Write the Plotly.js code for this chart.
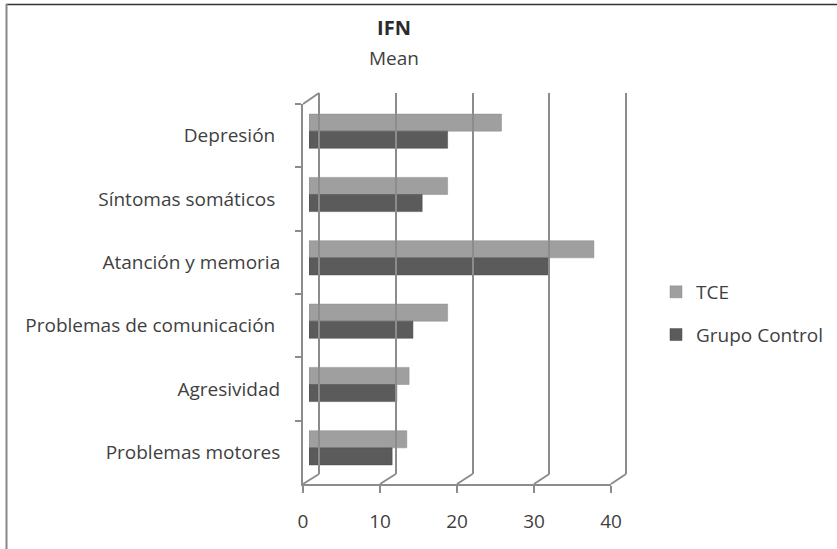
<!DOCTYPE html>
<html>
<head>
<meta charset="utf-8">
<script src="https://cdn.plot.ly/plotly-3.0.1.min.js"></script>
<style>html,body{margin:0;padding:0;background:#fff;}#chart{width:837px;height:549px;}</style>
</head>
<body>
<div id="chart"></div>
<script>
// ---- data ----
const categories = ["Depresión ", "Síntomas somáticos ", "Atanción y memoria", "Problemas de comunicación ", "Agresividad", "Problemas motores"];
const tceValues = [25, 18, 37, 18, 13, 12.7];
const controlValues = [18, 14.7, 31.2, 13.5, 11.4, 10.8];
const seriesNames = ["TCE", "Grupo Control"];
const xTickVals = [0, 10, 20, 30, 40];
const xTickText = ["0", "10", "20", "30", "40"];
const chartTitle = "IFN";
const chartSubtitle = "Mean";

// ---- layout helpers (page px -> paper fraction) ----
const W = 837, H = 549;
const fx = p => p / W;
const fy = p => 1 - p / H;
const FONT = "'Open Sans', 'Noto Sans', sans-serif";
const TXT = "#3f3f3f";
const LINE = "#8c8c8c";
const xMax = xTickVals[xTickVals.length - 1];

// back wall: 0 at px 319, max at px 626; pad the range so edge gridlines are drawn
const pad = 0.5;
const backPx = [319, 626];
const backScale = (backPx[1] - backPx[0]) / xMax;
const backX = [fx(backPx[0] - pad * backScale), fx(backPx[1] + pad * backScale)];
const backY = [fy(474), fy(93)];
const frontX = [fx(303), fx(611)], frontY = [fy(484), fy(104)];
const barX = [fx(309), fx(617)], barY = [fy(479.5), fy(99.5)];

const traces = [
  {type: "bar", orientation: "h", name: seriesNames[0], y: categories, x: tceValues,
   marker: {color: "#9f9f9f", line: {color: "#8a8a8a", width: 0.5}},
   xaxis: "x", yaxis: "y", legendgroup: "a", hoverinfo: "x"},
  {type: "bar", orientation: "h", name: seriesNames[1], y: categories, x: controlValues,
   marker: {color: "#5b5b5b", line: {color: "#4a4a4a", width: 0.5}},
   xaxis: "x", yaxis: "y", legendgroup: "b", hoverinfo: "x"}
];
// transparent copies so the back-wall and front axes get drawn
["2", "3"].forEach(k => {
  traces.push({type: "bar", orientation: "h", y: categories, x: tceValues, showlegend: false,
    marker: {color: "rgba(0,0,0,0)"}, xaxis: "x" + k, yaxis: "y" + k, hoverinfo: "skip"});
});

// 3D floor diagonals from front ticks to back gridlines
const shapes = [];
const frontPos = v => frontX[0] + (v / xMax) * (frontX[1] - frontX[0]);
const backPos = v => fx(backPx[0] + v * backScale);
xTickVals.forEach(v => {
  shapes.push({type: "line", xref: "paper", yref: "paper",
    x0: frontPos(v), y0: frontY[0], x1: backPos(v), y1: backY[0],
    line: {color: LINE, width: 2}});
});
// top-left diagonal of side wall
shapes.push({type: "line", xref: "paper", yref: "paper",
  x0: frontX[0], y0: frontY[1], x1: backPos(0), y1: backY[1], line: {color: LINE, width: 2}});
// outer frame (top and left edges)
shapes.push({type: "line", xref: "paper", yref: "paper", x0: fx(6), y0: fy(4.5), x1: 1, y1: fy(4.5), line: {color: "#333", width: 1.5}});
shapes.push({type: "line", xref: "paper", yref: "paper", x0: fx(6.5), y0: fy(4), x1: fx(6.5), y1: 0, line: {color: "#888", width: 2}});

const layout = {
  width: W, height: H,
  margin: {l: 0, r: 0, t: 0, b: 0},
  paper_bgcolor: "#fff", plot_bgcolor: "rgba(0,0,0,0)",
  font: {family: FONT, size: 19, color: TXT},
  barmode: "group", bargap: 0.46, bargroupgap: 0,
  showlegend: true,
  legend: {x: fx(656), y: fy(273), xanchor: "left", yanchor: "top",
    font: {family: FONT, size: 19, color: TXT}, tracegroupgap: 15, bgcolor: "rgba(0,0,0,0)"},
  title: {text: "<b>" + chartTitle + "</b>", x: fx(394), xref: "paper", xanchor: "center",
    y: fy(28), yref: "paper", yanchor: "middle", font: {family: FONT, size: 20, color: "#2b2b2b"}},
  annotations: [{text: chartSubtitle, xref: "paper", yref: "paper", x: fx(394), y: fy(58),
    xanchor: "center", yanchor: "middle", showarrow: false, font: {family: FONT, size: 19, color: TXT}}],
  // bars (mid depth)
  xaxis: {domain: barX, range: [0, xMax], anchor: "y", showgrid: false, zeroline: false,
    showticklabels: false, ticks: "", showline: false, fixedrange: true},
  yaxis: {domain: barY, type: "category", autorange: "reversed", anchor: "x", showgrid: false,
    zeroline: false, showticklabels: false, ticks: "", showline: false, fixedrange: true},
  // back wall gridlines
  xaxis2: {domain: backX, range: [-pad, xMax + pad], anchor: "y2", tickvals: xTickVals, showgrid: true,
    gridcolor: LINE, gridwidth: 2, zeroline: true, zerolinecolor: LINE, zerolinewidth: 2,
    showticklabels: false, ticks: "", showline: false},
  yaxis2: {domain: backY, type: "category", autorange: "reversed", anchor: "x2", showgrid: false, zeroline: false,
    showticklabels: false, ticks: "", showline: false},
  // front axes with ticks and labels
  xaxis3: {domain: frontX, range: [0, xMax], anchor: "y3", tickvals: xTickVals, ticktext: xTickText,
    showgrid: false, zeroline: false, showline: true, linecolor: LINE, linewidth: 2,
    ticks: "outside", ticklen: 7, tickwidth: 2, tickcolor: LINE, ticklabelstandoff: 12,
    tickfont: {family: FONT, size: 19, color: TXT}},
  yaxis3: {domain: frontY, type: "category", autorange: "reversed", anchor: "x3",
    tickson: "boundaries", ticks: "outside", ticklen: 6, tickwidth: 2, tickcolor: LINE,
    showgrid: false, zeroline: false, showline: true, linecolor: LINE, linewidth: 2,
    ticklabelstandoff: 17, tickfont: {family: FONT, size: 19, color: TXT}},
  shapes: shapes
};

Plotly.newPlot("chart", traces, layout, {displayModeBar: false, staticPlot: true});
</script>
</body>
</html>
